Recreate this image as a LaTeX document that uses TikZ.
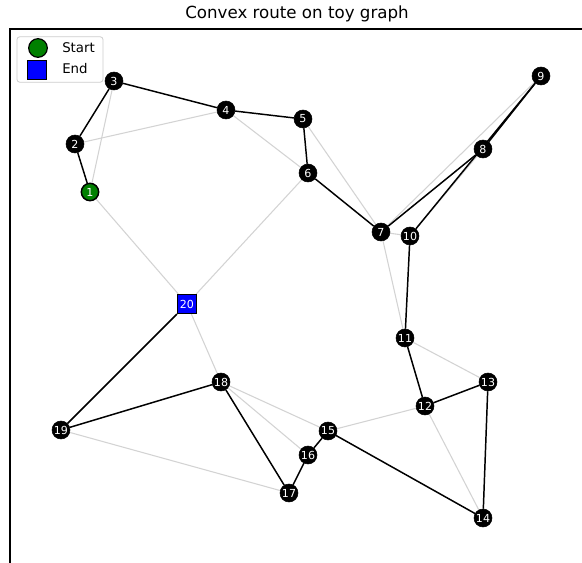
\documentclass[tikz,border=0pt]{standalone}
\usepackage{fontspec}
\setmainfont{DejaVu Sans}
\usetikzlibrary{backgrounds}
\begin{document}
\begin{tikzpicture}[x=0.75pt,y=-0.75pt,
  vtx/.style={circle,fill=black,draw=black,minimum size=13.5pt,inner sep=0pt,
    text=white,font=\fontsize{8.3}{9}\selectfont},
  startvtx/.style={vtx,fill=startgreen,line width=1.1pt,minimum size=13pt},
  endvtx/.style={rectangle,fill=endblue,draw=black,line width=1.1pt,minimum size=14pt,
    inner sep=0pt,text=white,font=\fontsize{8.3}{9}\selectfont},
  graphedge/.style={draw=edgegray,line width=0.8pt},
  routeedge/.style={draw=black,line width=1.1pt},
  spine/.style={draw=black,line width=0.8pt}]
\definecolor{startgreen}{RGB}{0,128,0}
\definecolor{endblue}{RGB}{0,0,255}
\definecolor{edgegray}{RGB}{211,211,211}
\definecolor{legendframe}{RGB}{204,204,204}
\useasboundingbox (0,0) rectangle (582,563);

% title and axes spines
\node[font=\fontsize{12.5}{14}\selectfont] (title) at (297,14) {Convex route on toy graph};
\coordinate (axtl) at (10,29);
\coordinate (axtr) at (582,29);
\coordinate (axbl) at (10,563);
\draw[spine] (axbl) -- (axtl) -- (axtr);

% vertices
\foreach \n/\x/\y in {2/75/144,3/114/81,4/226/110,5/303/119,6/308/173,7/381/232,8/483/149,
  9/541/76,10/410/236,11/405/338,12/425/406,13/488/382,14/483/518,15/328/431,16/308/455,
  17/289/493,18/221/382,19/61/430}
  \node[vtx] (v\n) at (\x,\y) {\n};
\node[startvtx] (v1) at (90,192) {1};
\node[endvtx] (v20) at (187,304) {20};

\begin{scope}[on background layer]
% underlying graph edges
\foreach \a/\b in {1/3,2/4,4/6,1/20,6/20,5/7,7/9,7/8,8/10,7/10,7/11,11/13,12/14,12/15,
  18/15,18/16,18/20,19/17,19/20,19/18,18/17,16/17,15/16,15/14,13/14,12/13,11/12,10/11,8/9}
  \draw[graphedge] (v\a) -- (v\b);
% route
\foreach \a/\b in {1/2,2/3,3/4,4/5,5/6,6/7,7/8,8/9,9/10,10/11,11/12,12/13,13/14,14/15,
  15/16,16/17,17/18,18/19,19/20}
  \draw[routeedge] (v\a) -- (v\b);
\end{scope}

% legend
\node[draw=legendframe,rounded corners=2pt,line width=0.6pt,fill=white,
  minimum width=64.5pt,minimum height=34pt] (legend) at (60,59.5) {};
\node[circle,fill=startgreen,draw=black,line width=0.9pt,minimum size=14pt,inner sep=0pt]
  (lgstart) at (38,48) {};
\node[rectangle,fill=endblue,draw=black,line width=0.9pt,minimum size=14pt,inner sep=0pt]
  (lgend) at (37,70) {};
\node[anchor=west,font=\fontsize{10}{12}\selectfont,inner sep=0pt] (lgstarttext) at (62,48) {Start};
\node[anchor=west,font=\fontsize{10}{12}\selectfont,inner sep=0pt] (lgendtext) at (62,69) {End};
\end{tikzpicture}
\end{document}
